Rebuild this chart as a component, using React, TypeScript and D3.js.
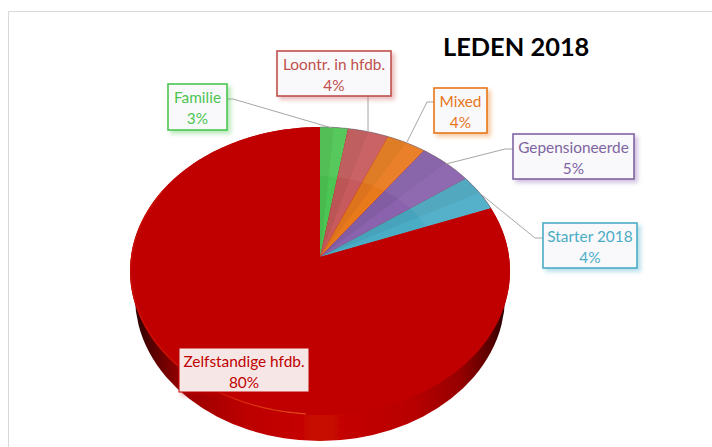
import React from "react";
import * as d3 from "d3";

const title = "LEDEN 2018";
const categories = ["Familie", "Loontr. in hfdb.", "Mixed", "Gepensioneerde", "Starter 2018", "Zelfstandige hfdb."];
const values = [2.6, 3.8, 3.7, 5.0, 4.1, 80.4];
const colors = ["#4cc552", "#c65a5c", "#e97a1c", "#8a62ad", "#4bacc6", "#c00000"];
const textColors = ["#4cc552", "#c0504d", "#e8761a", "#8064a2", "#4bacc6", "#c00000"];

// label box layout: x0, y0, x1, y1
const boxes = [
  [168, 84, 227, 130],
  [277, 51, 391, 96],
  [434, 88, 487, 133],
  [513, 134, 634, 179],
  [543, 223, 637, 268],
  [179, 348, 309, 392],
];
const leaders = [
  [[227, 99], [233, 99], [332, 128]],
  [[368, 96], [368, 132]],
  [[434, 102], [427, 102], [407, 142]],
  [[513, 149], [505, 149], [446, 164]],
  [[543, 238], [535, 238], [482, 195]],
  [],
];

const CX = 320, CY = 271, RX = 190, RY = 144, APEX_Y = 257, DEPTH = 26;

// Ray from the off-centre apex at pie angle a, to the point a fraction f of the way to the rim
function project(a: number, f = 1): [number, number] {
  const dx = Math.sin(a), dy = Math.cos(a);
  const y0 = (CY - APEX_Y) / RY;
  const b = y0 * dy;
  const t = -b + Math.sqrt(b * b + 1 - y0 * y0);
  const u = t * f;
  return [CX + RX * dx * u, CY - RY * (y0 + dy * u)];
}

function rim(a0: number, a1: number, f = 1) {
  const n = Math.max(2, Math.ceil(Math.abs(a1 - a0) / 0.02));
  return d3.range(n + 1).map((i) => project(a0 + ((a1 - a0) * i) / n, f));
}

const line = d3.line();
const wedge = (a0: number, a1: number, f0 = 0, f1 = 1) => {
  const outer = rim(a0, a1, f1);
  const inner = f0 === 0 ? [project(a0, 0)] : rim(a1, a0, f0);
  return line([...inner, ...outer]) + "Z";
};

const arcs = d3.pie<number>().sort(null).value((d) => d)(values);

export default function App() {
  return (
    <svg width={712} height={447} style={{ position: "absolute", left: 0, top: 0, background: "#fff" }} fontFamily="Lato, Carlito, sans-serif">
      <defs>
        <linearGradient id="wall" x1="0" x2="1" y1="0" y2="0">
          <stop offset="0" stopColor="#2a0000" />
          <stop offset="0.05" stopColor="#5a0000" />
          <stop offset="0.13" stopColor="#9a0000" />
          <stop offset="0.3" stopColor="#bc0000" />
          <stop offset="0.5" stopColor="#c80800" />
          <stop offset="0.75" stopColor="#b80000" />
          <stop offset="0.88" stopColor="#960000" />
          <stop offset="0.96" stopColor="#5a0000" />
          <stop offset="1" stopColor="#2a0000" />
        </linearGradient>
        <linearGradient id="bevel" x1="0" x2="1" y1="0" y2="0">
          <stop offset="0" stopColor="#d01a08" stopOpacity="0.5" />
          <stop offset="0.55" stopColor="#d8300c" stopOpacity="0.7" />
          <stop offset="1" stopColor="#e8601c" stopOpacity="0.9" />
        </linearGradient>
        {colors.map((c, i) => (
          <filter key={i} id={`sh${i}`} x="-20%" y="-20%" width="140%" height="140%">
            <feDropShadow dx="3" dy="3" stdDeviation="2" floodColor={c} floodOpacity="0.4" />
          </filter>
        ))}
        <filter id="soft" x="-5%" y="-5%" width="110%" height="110%">
          <feGaussianBlur stdDeviation="0.5" />
        </filter>
      </defs>

      <path d="M8.5,447V11.5H712" fill="none" stroke="#d9d9d9" strokeWidth={1} />

      <text x={443} y={56} fontSize={25.4} fontWeight={700} fill="#000">{title}</text>

      {/* side wall */}
      <ellipse cx={CX} cy={CY + DEPTH} rx={RX - 5} ry={RY} fill="url(#wall)" filter="url(#soft)" />

      {/* top face */}
      <g filter="url(#soft)">
        <ellipse cx={CX} cy={CY} rx={RX} ry={RY} fill="#c00000" />
        {arcs.map((s, i) => {
          const mid = (s.startAngle + s.endAngle) / 2;
          return (
            <g key={i}>
              <path d={wedge(s.startAngle, s.endAngle)} fill={colors[i]} />
              {i < 5 && (
                <>
                  <path d={wedge(s.startAngle, mid)} fill="#000" opacity={0.05} />
                  <path d={wedge(s.startAngle, s.endAngle, 0.62, 1)} fill="#fff" opacity={0.06} />
                </>
              )}
            </g>
          );
        })}
        <path d={line(rim(arcs[0].startAngle, arcs[4].endAngle))!} fill="none" stroke="#6f6f80" strokeWidth={1} opacity={0.6} />
      </g>
      {/* lower bevel highlight */}
      <path
        d={line(rim(arcs[5].startAngle + 2.0, arcs[5].startAngle + 4.0, 0.995))!}
        fill="none"
        stroke="url(#bevel)"
        strokeWidth={1.2}
      />

      {/* leaders */}
      {leaders.map((pts, i) =>
        pts.length ? <path key={i} d={line(pts as [number, number][])!} fill="none" stroke="#a6a6a6" strokeWidth={1} /> : null
      )}

      {/* labels */}
      {categories.map((c, i) => {
        const [x0, y0, x1, y1] = boxes[i];
        const mx = (x0 + x1) / 2;
        const last = i === 5;
        return (
          <g key={c}>
            <rect
              x={x0}
              y={y0}
              width={x1 - x0}
              height={y1 - y0}
              fill={last ? "#f6e7e6" : "#f9f9fb"}
              stroke={textColors[i]}
              strokeWidth={last ? 1 : 1.6}
              filter={`url(#sh${i})`}
            />
            <text x={mx} y={y0 + 19} textAnchor="middle" fontSize={15.4} fill={textColors[i]}>{c}</text>
            <text x={mx} y={y0 + 39.5} textAnchor="middle" fontSize={15.4} fill={textColors[i]}>{Math.round(values[i])}%</text>
          </g>
        );
      })}
    </svg>
  );
}
